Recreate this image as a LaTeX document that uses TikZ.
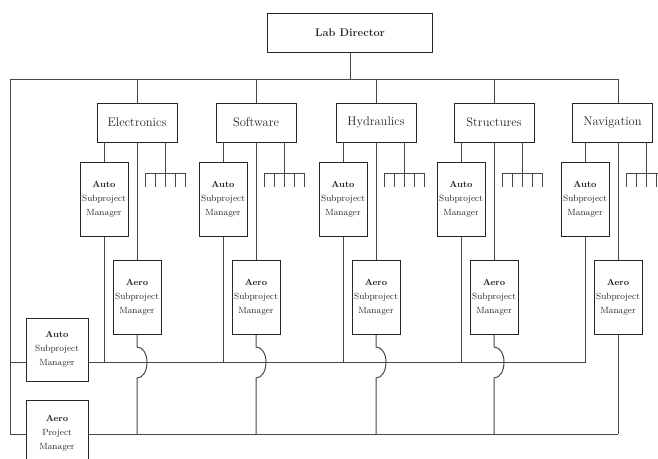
\documentclass[tikz,border=0pt]{standalone}
\begin{document}
\begin{tikzpicture}[x=1pt,y=-1pt,
  conn/.style={draw=black!72, line width=1pt},
  box/.style={draw=black!85, line width=1pt, fill=white, inner sep=0pt, text=black!85},
  topbox/.style={box, minimum width=165pt, minimum height=39pt, font=\fontsize{11}{13}\selectfont\bfseries},
  deptbox/.style={box, minimum width=80pt, minimum height=39pt, font=\fontsize{12.5}{14}\selectfont},
  subbox/.style={box, minimum width=48pt, minimum height=74pt, align=center, font=\fontsize{9}{13.8}\selectfont},
  pmbox/.style={box, minimum width=62pt, align=center, font=\fontsize{9}{14}\selectfont}]
\useasboundingbox (0,0) rectangle (658,458);
\clip (0,0) rectangle (658,458);

% Lab director and top bus
\node[topbox] (lab) at (350,32.5) {Lab Director};
\coordinate (busL) at (10,79);
\coordinate (busR) at (618,79);
\coordinate (busM) at (350,79);
\draw[conn] (lab.south) -- (busM);
\draw[conn] (busL) -- (busR);

% bottom lines
\coordinate (autoL) at (10,362);
\coordinate (autoR) at (586,362);
\coordinate (aeroL) at (10,434);
\coordinate (aeroR) at (618,434);
\draw[conn] (busL) -- (aeroL) -- (aeroR);
\draw[conn] (autoL) -- (autoR);

% departments
\foreach \dx/\sh/\nm/\name in {137/0/e/Electronics, 256/0/s/Software, 376/0/h/Hydraulics, 494/0/t/Structures, 618/-5.5/n/Navigation}{
  \node[deptbox] (d\nm) at (\dx+\sh,122.5) {\name};
  \node[subbox] (au\nm) at (\dx-33,199) {\textbf{Auto}\\Subproject\\Manager};
  \node[subbox] (ae\nm) at (\dx,297) {\textbf{Aero}\\Subproject\\Manager};
  \coordinate (top\nm) at (\dx,79);
  \coordinate (dt\nm) at (\dx,103);
  \coordinate (db\nm) at (\dx,142);
  \draw[conn] (top\nm) -- (dt\nm);
  % auto link
  \coordinate (dl\nm) at (\dx-33,142);
  \coordinate (al\nm) at (\dx-33,362);
  \draw[conn] (dl\nm) -- (au\nm.north);
  \draw[conn] (au\nm.south) -- (al\nm);
  % aero link
  \draw[conn] (db\nm) -- (ae\nm.north);
  % rake
  \coordinate (rs\nm) at (\dx+28,142);
  \coordinate (rm\nm) at (\dx+28,173);
  \draw[conn] (rs\nm) -- (rm\nm);
  \draw[conn] (\dx+8,187) -- (\dx+8,173) -- (\dx+48,173) -- (\dx+48,187);
  \foreach \k in {18,28,38}{\draw[conn] (\dx+\k,173) -- (\dx+\k,187);}
}

% aero links with jumps
\foreach \dx/\nm in {137/e, 256/s, 376/h, 494/t}{
  \coordinate (ab\nm) at (\dx,434);
  \draw[conn] (ae\nm.south) -- (\dx,347)
     .. controls (\dx+6,347) and (\dx+10,354) .. (\dx+10,362)
     .. controls (\dx+10,371) and (\dx+6,378) .. (\dx,378) -- (ab\nm);
}
\coordinate (abn) at (618,434);
\draw[conn] (aen.south) -- (abn);

% left project managers
\node[pmbox, minimum height=63pt] (autopm) at (57,349.5) {\textbf{Auto}\\Subproject\\Manager};
\node[pmbox, minimum height=66pt, anchor=north] (aeropm) at (57,400) {\textbf{Aero}\\Project\\Manager};
\end{tikzpicture}
\end{document}
